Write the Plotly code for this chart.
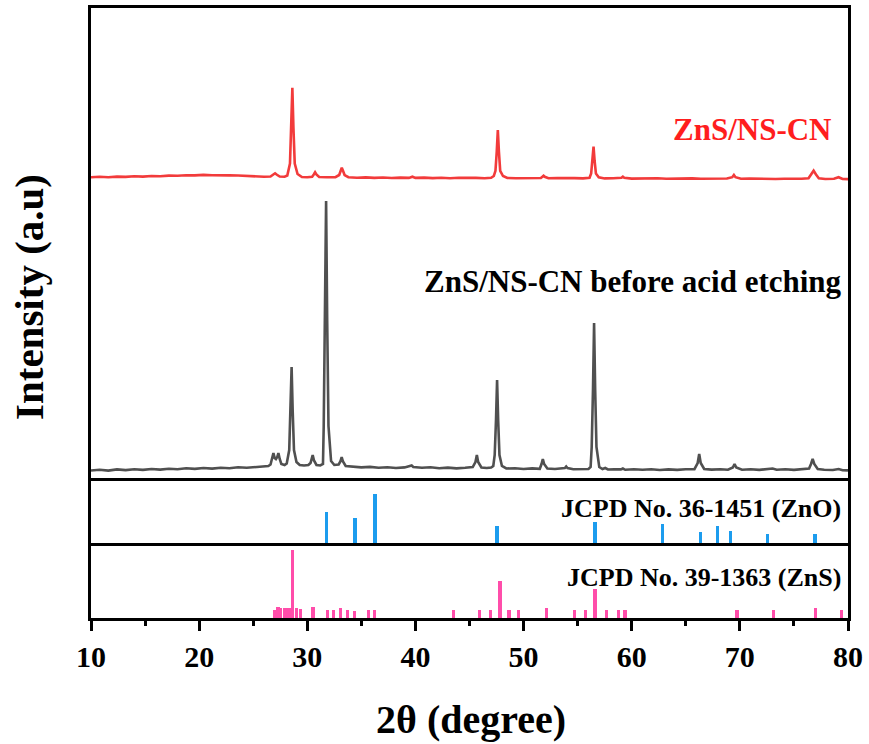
import plotly.graph_objects as go

# ---------------- data ----------------
# ZnS/NS-CN before acid etching (black curve), 2theta and intensity (a.u.)
black_x = [10.0, 10.8, 11.6, 12.4, 13.2, 14.0, 14.8, 15.6, 16.4, 17.2, 18.0, 18.8, 19.6, 20.4, 21.2,
           22.0, 22.8, 23.6, 24.4, 25.2, 25.9, 26.4, 26.6, 26.75, 26.87, 26.98, 27.1, 27.22, 27.33,
           27.45, 27.6, 27.9, 28.1, 28.33, 28.45, 28.55, 28.65, 28.77, 29.0, 29.3, 29.7, 30.1, 30.3,
           30.38, 30.5, 30.62, 30.85, 31.2, 31.45, 31.52, 31.64, 31.74, 31.84, 31.96, 32.2, 32.5,
           32.9, 33.06, 33.18, 33.3, 33.55, 34.2, 35.0, 35.8, 36.6, 37.4, 38.2, 39.0, 39.5, 39.65,
           39.8, 40.6, 41.4, 42.2, 43.0, 43.8, 44.6, 45.3, 45.55, 45.68, 45.8, 46.1, 46.6, 47.0,
           47.2, 47.33, 47.45, 47.55, 47.65, 47.77, 48.0, 48.4, 49.2, 50.0, 50.8, 51.5, 51.66, 51.78,
           51.9, 52.2, 52.9, 53.6, 53.82, 53.94, 54.06, 54.6, 55.4, 56.0, 56.2, 56.3, 56.42, 56.52,
           56.62, 56.74, 57.0, 57.3, 57.55, 57.8, 58.4, 59.0, 59.18, 59.4, 60.2, 61.0, 61.8, 62.6,
           63.4, 64.2, 65.0, 65.8, 66.1, 66.24, 66.38, 66.7, 67.4, 68.2, 68.9, 69.35, 69.51, 69.67,
           70.2, 71.0, 71.8, 72.6, 73.03, 73.4, 74.2, 75.0, 75.8, 76.4, 76.58, 76.73, 76.88, 77.2,
           77.8, 78.6, 79.14, 79.5, 80.0]
black_y = [7.5, 8.2, 7.4, 8.6, 7.9, 8.8, 8.1, 9.0, 8.4, 9.3, 8.7, 9.8, 9.1, 10.0, 9.4,
           10.3, 9.8, 10.8, 10.2, 11.0, 11.4, 12.0, 13.5, 20.0, 25.0, 20.0, 19.0, 21.0, 25.0,
           19.0, 14.0, 13.0, 14.5, 28.0, 67.0, 111.0, 67.0, 28.0, 16.0, 13.0, 12.5, 13.0, 15.0,
           17.5, 23.0, 17.5, 13.0, 12.5, 14.0, 52.0, 158.0, 277.0, 158.0, 52.0, 17.0, 13.0,
           13.5, 16.5, 21.0, 16.5, 12.0, 11.2, 10.6, 11.1, 10.2, 10.8, 10.0, 10.6, 11.5, 12.5,
           11.0, 10.2, 10.8, 9.8, 10.4, 9.6, 10.2, 11.0, 16.0, 23.0, 16.0, 10.5, 10.0, 10.5,
           12.0, 23.0, 58.0, 98.0, 58.0, 23.0, 12.0, 9.5, 9.8, 9.0, 9.6, 9.2, 14.0, 19.0,
           14.0, 9.5, 9.0, 9.4, 10.0, 11.5, 10.0, 8.8, 9.2, 9.0, 11.0, 31.0, 89.0, 155.0,
           89.0, 31.0, 11.0, 9.0, 10.0, 8.5, 8.8, 8.6, 9.5, 8.2, 8.8, 8.2, 8.7, 8.0,
           8.6, 8.1, 8.7, 8.8, 15.0, 24.0, 15.0, 9.0, 8.4, 8.8, 8.3, 10.5, 14.0, 10.5,
           8.2, 8.7, 8.1, 8.6, 9.5, 8.2, 8.7, 8.1, 8.6, 9.5, 14.0, 19.0, 14.0, 9.0,
           8.3, 8.0, 9.0, 7.8, 7.6]

# ZnS/NS-CN (red curve), plotted with its vertical offset already included
red_x = [10.0, 10.8, 11.6, 12.4, 13.2, 14.0, 14.8, 15.6, 16.4, 17.2, 18.0, 18.8, 19.6, 20.4, 21.2,
         22.0, 22.8, 23.6, 24.4, 25.2, 26.0, 26.6, 26.88, 27.02, 27.16, 27.45, 27.9, 28.15, 28.40,
         28.52, 28.62, 28.72, 28.84, 29.1, 29.5, 30.0, 30.45, 30.6, 30.72, 30.84, 31.1, 31.8, 32.6,
         32.95, 33.07, 33.19, 33.31, 33.45, 33.8, 34.6, 35.4, 36.2, 37.0, 37.8, 38.6, 39.4, 39.72,
         40.0, 40.8, 41.6, 42.4, 43.2, 44.0, 44.8, 45.6, 46.4, 47.0, 47.25, 47.40, 47.52, 47.62,
         47.72, 47.84, 48.1, 48.5, 49.3, 50.1, 50.9, 51.6, 51.74, 51.85, 51.96, 52.3, 53.1, 53.9,
         54.7, 55.5, 56.1, 56.25, 56.37, 56.47, 56.57, 56.69, 56.95, 57.5, 58.3, 59.05, 59.18,
         59.31, 60.0, 60.8, 61.6, 62.4, 63.2, 64.0, 64.8, 65.6, 66.4, 67.2, 68.0, 68.8, 69.3,
         69.45, 69.6, 70.1, 70.9, 71.7, 72.5, 73.3, 74.1, 74.9, 75.7, 76.35, 76.6, 76.82, 77.04,
         77.3, 77.9, 78.7, 79.13, 79.5, 80.0]
red_y = [300.7, 301.2, 300.8, 301.4, 301.1, 301.7, 301.4, 302.0, 301.8, 302.4, 302.2, 302.8, 302.6,
         303.1, 302.8, 303.0, 302.6, 302.5, 301.9, 301.7, 301.3, 301.5, 303.5, 304.7, 303.5, 301.5,
         301.3, 302.5, 314.4, 350.0, 390.3, 350.0, 314.4, 304.0, 301.0, 300.8, 301.3, 303.5, 305.7,
         303.5, 301.0, 300.7, 300.9, 303.0, 307.0, 310.3, 307.0, 303.0, 300.8, 300.2, 300.6, 300.1,
         300.5, 300.0, 300.4, 300.1, 301.3, 300.1, 300.4, 299.9, 300.3, 299.8, 300.2, 299.8, 300.1,
         299.8, 300.2, 302.0, 307.2, 326.4, 348.0, 326.4, 307.2, 302.0, 300.0, 299.8, 300.1, 299.7,
         300.0, 301.2, 302.3, 301.2, 299.8, 300.0, 299.6, 299.9, 299.6, 300.2, 304.5, 317.0, 331.3,
         317.0, 304.5, 300.8, 299.6, 299.8, 300.3, 301.3, 300.3, 299.4, 299.7, 299.3, 299.7, 299.3,
         299.6, 299.2, 299.6, 299.2, 299.5, 299.1, 299.5, 300.8, 303.0, 300.8, 299.2, 299.5, 299.1,
         299.4, 299.0, 299.3, 298.9, 299.2, 299.8, 303.5, 307.3, 303.5, 299.8, 299.0, 299.2, 300.8,
         299.0, 298.9]

# JCPD No. 36-1451 (ZnO) reference lines
zno_pos = [31.77, 34.42, 36.25, 47.54, 56.60, 62.86, 66.38, 67.96, 69.10, 72.56, 76.95]
zno_int = [63, 52, 100, 35, 43, 39, 23, 35, 24, 18, 19]

# JCPD No. 39-1363 (ZnS) reference lines
zns_pos = [26.97, 27.30, 27.53, 27.95, 28.30, 28.63, 29.00, 29.37, 30.52, 31.90, 32.45, 33.10,
           33.75, 34.39, 35.68, 36.23, 43.54, 45.94, 46.95, 47.83, 48.66, 49.53, 52.15, 54.73,
           55.74, 56.61, 57.68, 58.78, 59.38, 69.73, 73.14, 77.00, 79.40]
zns_int = [12, 16, 14, 14, 15, 100, 14, 13, 16, 12, 12, 14,
           12, 11, 12, 12, 12, 12, 12, 55, 12, 12, 14, 12,
           12, 42, 12, 12, 12, 12, 12, 14, 12]

x_ticks = [10, 20, 30, 40, 50, 60, 70, 80]

label_red = "ZnS/NS-CN"
label_black = "ZnS/NS-CN before acid etching"
label_zno = "JCPD No. 36-1451 (ZnO)"
label_zns = "JCPD No. 39-1363 (ZnS)"

# ---------------- figure ----------------
SERIF = "Liberation Serif"
W, H = 869, 744
ML, MR, MT, MB = 91, 21, 8, 126
plot_h = H - MT - MB  # 610


def py(pix):  # pixel row -> paper y
    return (H - MB - pix) / plot_h


def px(pix):  # pixel col -> paper x
    return (pix - ML) / (W - ML - MR)


fig = go.Figure()
fig.add_trace(go.Scatter(x=black_x, y=black_y, mode="lines", xaxis="x", yaxis="y",
                         line=dict(color="#505050", width=2.6), showlegend=False))
fig.add_trace(go.Scatter(x=red_x, y=red_y, mode="lines", xaxis="x", yaxis="y",
                         line=dict(color="#F23B3B", width=2.6), showlegend=False))
fig.add_trace(go.Bar(x=zno_pos, y=zno_int, xaxis="x2", yaxis="y2", width=0.3,
                     marker=dict(color="#1C9CEE", line=dict(width=0)), showlegend=False))
fig.add_trace(go.Bar(x=zns_pos, y=zns_int, xaxis="x3", yaxis="y3", width=0.3,
                     marker=dict(color="#FF4DAA", line=dict(width=0)), showlegend=False))

LW = 2.5
base = dict(showgrid=False, zeroline=False, linecolor="black", linewidth=LW)

d_main = [py(478), 1.0]
d_zno = [py(543), py(478)]
d_zns = [0.0, py(543)]

fig.update_layout(
    width=W, height=H,
    margin=dict(l=ML, r=MR, t=MT, b=MB, autoexpand=False),
    paper_bgcolor="white", plot_bgcolor="white",
    bargap=0,
    # main panel: top + bottom frame lines
    xaxis=dict(range=[10, 80], anchor="y", showticklabels=False, ticks="",
               showline=True, mirror=True, **base),
    # middle panel: bottom line only (top is the main panel's bottom line)
    xaxis2=dict(range=[10, 80], anchor="y2", matches="x", showticklabels=False, ticks="",
                showline=True, mirror=False, **base),
    # bottom panel: bottom line with ticks
    xaxis3=dict(range=[10, 80], anchor="y3", matches="x", tickvals=x_ticks,
                ticktext=[str(t) for t in x_ticks], ticks="outside", ticklen=10, tickwidth=LW,
                tickcolor="black",
                minor=dict(dtick=5, tick0=5, ticks="outside", ticklen=5, tickwidth=LW,
                           tickcolor="black"),
                tickfont=dict(family=SERIF, size=30, color="black", weight="bold"),
                showline=True, mirror=False, **base),
    yaxis=dict(domain=d_main, range=[0, 470], anchor="x", showticklabels=False, ticks="",
               showline=True, mirror=True, **base),
    yaxis2=dict(domain=d_zno, range=[0, 132.6], anchor="x2", showticklabels=False, ticks="",
                showline=True, mirror=True, **base),
    yaxis3=dict(domain=d_zns, range=[0, 110.4], anchor="x3", showticklabels=False, ticks="",
                showline=True, mirror=True, **base),
)

ann = []
ann.append(dict(text=label_red, x=px(834), y=py(129), xref="paper", yref="paper",
                xanchor="right", yanchor="middle", showarrow=False,
                font=dict(family=SERIF, size=31, color="#FF1E1E", weight="bold")))
ann.append(dict(text=label_black, x=px(844), y=py(281), xref="paper", yref="paper",
                xanchor="right", yanchor="middle", showarrow=False,
                font=dict(family=SERIF, size=31, color="black", weight="bold")))
ann.append(dict(text=label_zno, x=px(843), y=py(508), xref="paper", yref="paper",
                xanchor="right", yanchor="middle", showarrow=False,
                font=dict(family=SERIF, size=26, color="black", weight="bold")))
ann.append(dict(text=label_zns, x=px(843), y=py(577), xref="paper", yref="paper",
                xanchor="right", yanchor="middle", showarrow=False,
                font=dict(family=SERIF, size=26, color="black", weight="bold")))
ann.append(dict(text="2θ (degree)", x=px(471), y=py(719), xref="paper", yref="paper",
                xanchor="center", yanchor="middle", showarrow=False,
                font=dict(family=SERIF, size=40, color="black", weight="bold")))
ann.append(dict(text="Intensity (a.u)", x=px(29), y=py(297), xref="paper", yref="paper",
                xanchor="center", yanchor="middle", showarrow=False, textangle=-90,
                font=dict(family=SERIF, size=41, color="black", weight="bold")))
fig.update_layout(annotations=ann)

fig.write_html("out.html", config={"displayModeBar": False},
               post_script="document.body.style.margin='0';document.body.style.overflow='hidden';")
